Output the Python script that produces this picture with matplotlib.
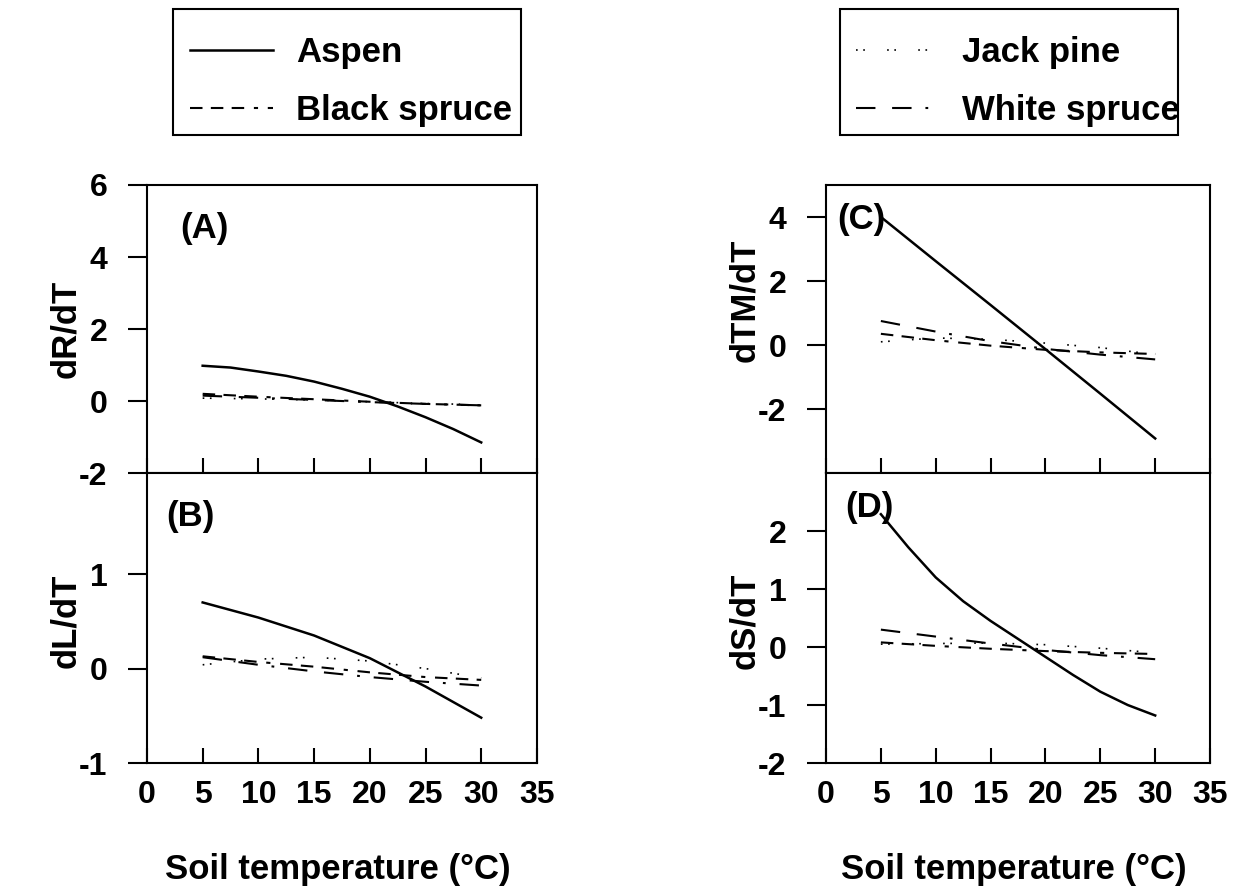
from matplotlib import pyplot as plt
from matplotlib.lines import Line2D
from matplotlib.patches import Rectangle

plt.rcParams['font.family'] = ['Liberation Sans', 'DejaVu Sans']
plt.rcParams['font.weight'] = 'bold'
plt.rcParams['axes.labelweight'] = 'bold'
plt.rcParams['axes.unicode_minus'] = False
plt.rcParams['lines.scale_dashes'] = False
###############################################################################
# data (soil temperature in deg C)
temp = [5, 10, 15, 20, 25, 30]
temp_fine = [5, 7.5, 10, 12.5, 15, 17.5, 20, 22.5, 25, 27.5, 30]

# (A) dR/dT
a_aspen = [0.98, 0.93, 0.82, 0.70, 0.54, 0.34, 0.12, -0.15, -0.45, -0.78, -1.15]
a_black = [0.20, 0.12, 0.05, -0.02, -0.08, -0.12]
a_jack = [0.08, 0.06, 0.03, -0.02, -0.07, -0.10]
a_white = [0.15, 0.09, 0.03, -0.03, -0.08, -0.12]

# (B) dL/dT
b_aspen = [0.70, 0.54, 0.35, 0.11, -0.19, -0.52]
b_black = [0.13, 0.07, 0.02, -0.04, -0.09, -0.12]
b_jack = [0.04, 0.10, 0.12, 0.08, 0.00, -0.10]
b_white = [0.12, 0.04, -0.03, -0.09, -0.14, -0.18]

# (C) dTM/dT
c_aspen = [4.00, 2.62, 1.25, -0.13, -1.52, -2.92]
c_black = [0.35, 0.15, -0.02, -0.15, -0.23, -0.28]
c_jack = [0.10, 0.22, 0.18, 0.06, -0.08, -0.30]
c_white = [0.75, 0.42, 0.12, -0.12, -0.30, -0.45]

# (D) dS/dT
d_aspen = [2.29, 1.72, 1.20, 0.79, 0.45, 0.14, -0.17, -0.48, -0.77, -1.00, -1.18]
d_black = [0.08, 0.02, -0.03, -0.07, -0.10, -0.12]
d_jack = [0.05, 0.06, 0.07, 0.04, -0.02, -0.10]
d_white = [0.30, 0.18, 0.06, -0.05, -0.14, -0.21]

xticks = [0, 5, 10, 15, 20, 25, 30, 35]
###############################################################################
ASPEN = dict(color='black', lw=1.8, ls='-')
BLACK = dict(color='black', lw=1.5, ls=(0, (9, 6, 9, 6, 9, 7, 3, 7)))
JACK = dict(color='black', lw=1.2, ls=(0, (1.2, 4, 1.2, 16)))
WHITE = dict(color='black', lw=1.5, ls=(0, (14, 12, 14, 10, 2, 10)))
FS_TICK = 23
FS_LAB = 25
###############################################################################
fig = plt.figure(figsize=(12.36, 8.86), dpi=100)

panels = [
    # rect, ylim, yticks, tag, ylabel, tag pos, ylabel coords, bottom row
    ([0.1189, 0.4661, 0.3155, 0.3251], (-2, 6), [-2, 0, 2, 4, 6], '(A)', 'dR/dT',
     (0.085, 0.85), (-0.165, 0.5), False,
     a_aspen, a_black, a_jack, a_white),
    ([0.1189, 0.1388, 0.3155, 0.3273], (-1, 2.07), [-1, 0, 1], '(B)', 'dL/dT',
     (0.05, 0.85), (-0.165, 0.49), True,
     b_aspen, b_black, b_jack, b_white),
    ([0.6683, 0.4661, 0.3107, 0.3251], (-4, 5), [-2, 0, 2, 4], '(C)', 'dTM/dT',
     (0.03, 0.88), (-0.17, 0.6), False,
     c_aspen, c_black, c_jack, c_white),
    ([0.6683, 0.1388, 0.3107, 0.3273], (-2, 3), [-2, -1, 0, 1, 2], '(D)', 'dS/dT',
     (0.05, 0.88), (-0.17, 0.49), True,
     d_aspen, d_black, d_jack, d_white),
]

for (rect, ylim, yticks, tag, ylab, tagpos, ylabpos, bottom,
     aspen, black, jack, white) in panels:
    ax = fig.add_axes(rect)
    ax.plot(temp_fine if len(aspen) == len(temp_fine) else temp, aspen, **ASPEN)
    ax.plot(temp, black, **BLACK)
    ax.plot(temp, jack, **JACK)
    ax.plot(temp, white, **WHITE)
    ax.set_xlim(0, 35)
    ax.set_ylim(*ylim)
    ax.set_xticks(xticks)
    ax.set_yticks(yticks)
    for s in ax.spines.values():
        s.set_linewidth(1.5)
    ax.tick_params(axis='x', direction='in', length=11, width=1.5,
                   labelsize=FS_TICK, pad=12, labelbottom=bottom)
    ax.tick_params(axis='y', direction='out', length=13.5, width=1.5,
                   labelsize=FS_TICK, pad=15)
    ax.text(tagpos[0], tagpos[1], tag, transform=ax.transAxes,
            fontsize=FS_LAB, ha='left', va='center')
    ax.set_ylabel(ylab, fontsize=FS_LAB)
    ax.yaxis.set_label_coords(*ylabpos)
    if bottom:
        ax.set_xlabel('Soil temperature (\u00b0C)', fontsize=FS_LAB)
        ax.xaxis.set_label_coords(0.49, -0.31)
###############################################################################
# legends above the panels, boxes drawn separately
leg_kw = dict(loc='upper left', fontsize=FS_LAB, frameon=False,
              borderaxespad=0, borderpad=0, handlelength=2.4,
              handletextpad=0.66, labelspacing=0.72)
h1 = [Line2D([], [], **ASPEN), Line2D([], [], **BLACK)]
fig.legend(h1, ['Aspen', 'Black spruce'], bbox_to_anchor=(0.1537, 0.9595),
           **leg_kw)
h2 = [Line2D([], [], **JACK), Line2D([], [], **WHITE)]
fig.legend(h2, ['Jack pine', 'White spruce'], bbox_to_anchor=(0.6925, 0.9595),
           **leg_kw)
for x0, w in [(0.140, 0.2816), (0.6796, 0.2735)]:
    fig.patches.append(Rectangle((x0, 0.8476), w, 0.1422, transform=fig.transFigure,
                                 fill=False, edgecolor='black', lw=1.5))

fig.savefig('out.png', dpi=100)
